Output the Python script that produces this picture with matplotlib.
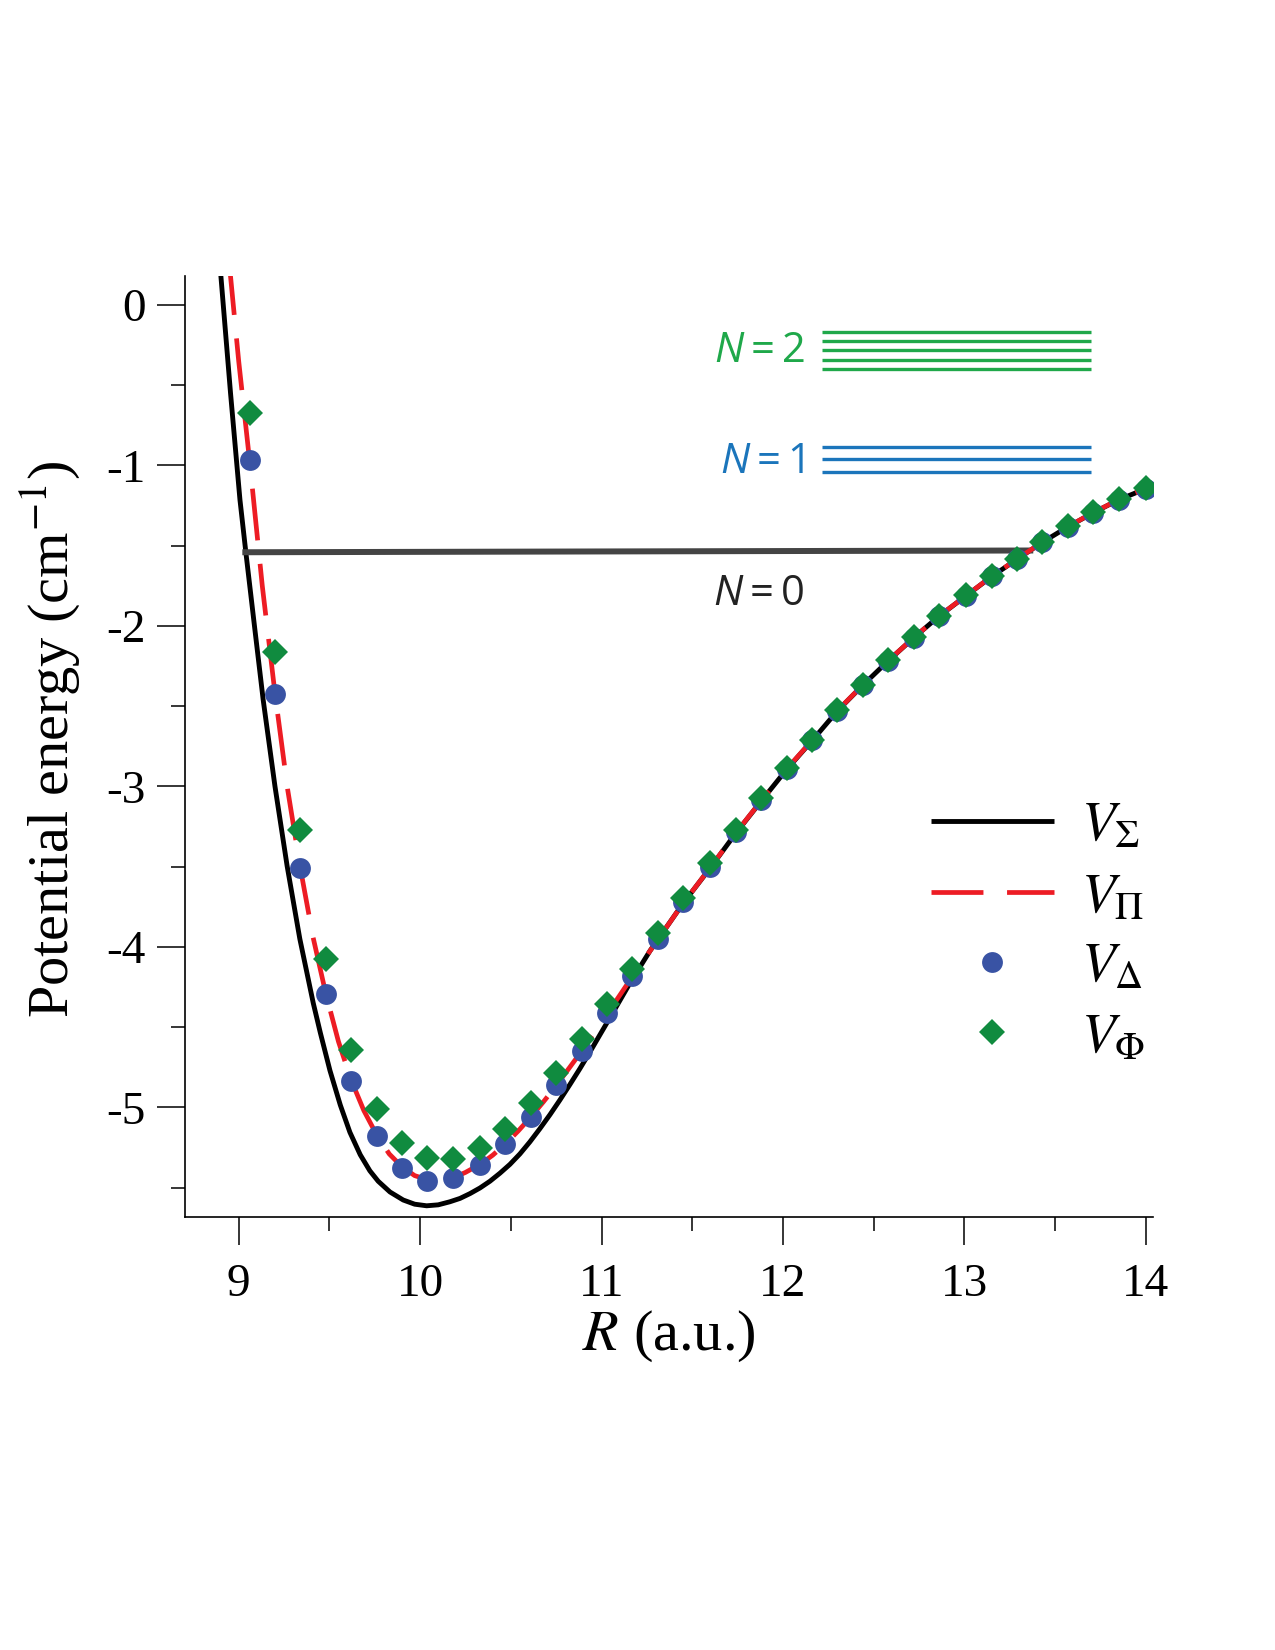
import numpy as np
import matplotlib
matplotlib.use("Agg")
import matplotlib.pyplot as plt

plt.rcParams['font.family'] = ['Liberation Serif', 'DejaVu Serif']
plt.rcParams['mathtext.fontset'] = 'stix'
plt.rcParams['mathtext.rm'] = 'Open Sans'
plt.rcParams['mathtext.it'] = 'Open Sans:italic'
plt.rcParams['axes.unicode_minus'] = False

# V_Sigma (black solid curve)
r_sigma = [8.896, 8.955, 9.007, 9.040, 9.09, 9.135, 9.20, 9.267, 9.337, 9.411,
           9.45, 9.503, 9.56, 9.613, 9.67, 9.723, 9.769, 9.834, 9.907, 9.97,
           10.036, 10.10, 10.164, 10.22, 10.275, 10.33, 10.385, 10.44, 10.495, 10.55,
           10.605, 10.66, 10.716, 10.77, 10.826, 10.88, 10.936, 10.99, 11.047, 11.157,
           11.267, 11.31, 11.45, 11.60, 11.74, 11.88, 12.02, 12.16, 12.30, 12.44,
           12.58, 12.72, 12.86, 13.01, 13.15, 13.29, 13.43, 13.57, 13.71, 13.85, 14.00]
v_sigma = [0.26, -0.55, -1.215, -1.547, -2.03, -2.461, -3.0, -3.496, -3.95, -4.35,
           -4.535, -4.77, -4.985, -5.155, -5.295, -5.395, -5.46, -5.527, -5.577, -5.603,
           -5.613, -5.607, -5.588, -5.567, -5.537, -5.502, -5.46, -5.41, -5.355, -5.29,
           -5.215, -5.133, -5.045, -4.955, -4.857, -4.76, -4.655, -4.55, -4.44, -4.225,
           -4.025, -3.955, -3.728, -3.507, -3.292, -3.092, -2.895, -2.716, -2.530, -2.370,
           -2.218, -2.075, -1.940, -1.812, -1.693, -1.585, -1.479, -1.383, -1.295, -1.215,
           -1.145]

# V_Pi (red dashed curve)
r_pi = [8.948, 9.00, 9.06, 9.13, 9.20, 9.27, 9.34, 9.41, 9.48, 9.55, 9.62, 9.69,
        9.76, 9.83, 9.90, 9.97, 10.04, 10.11, 10.18, 10.25, 10.33, 10.40, 10.47, 10.54,
        10.61, 10.68, 10.75, 10.89, 11.03, 11.17, 11.31, 11.45, 11.60, 11.74, 11.88,
        12.02, 12.16, 12.30, 12.44, 12.58, 12.72, 12.86, 13.01, 13.15, 13.29, 13.43,
        13.57, 13.71, 13.85, 14.00]
v_pi = [0.26, -0.35, -0.97, -1.75, -2.42, -3.02, -3.51, -3.94, -4.29, -4.59, -4.83, -5.02,
        -5.17, -5.29, -5.37, -5.425, -5.45, -5.455, -5.44, -5.405, -5.355, -5.298, -5.228,
        -5.148, -5.06, -4.965, -4.865, -4.65, -4.42, -4.185, -3.955, -3.728, -3.505, -3.29,
        -3.09, -2.892, -2.714, -2.528, -2.369, -2.217, -2.074, -1.939, -1.811, -1.692,
        -1.584, -1.478, -1.382, -1.294, -1.214, -1.144]

# V_Delta (blue circles) and V_Phi (green diamonds), same R grid
r_pts = [9.06, 9.20, 9.34, 9.48, 9.62, 9.76, 9.90, 10.04, 10.18, 10.33, 10.47, 10.61,
         10.75, 10.89, 11.03, 11.17, 11.31, 11.45, 11.60, 11.74, 11.88, 12.02, 12.16,
         12.30, 12.44, 12.58, 12.72, 12.86, 13.01, 13.15, 13.29, 13.43, 13.57, 13.71,
         13.85, 14.00]
v_delta = [-0.966, -2.424, -3.510, -4.293, -4.835, -5.180, -5.375, -5.458, -5.441, -5.358,
           -5.227, -5.057, -4.860, -4.646, -4.413, -4.180, -3.950, -3.720, -3.500, -3.285,
           -3.085, -2.890, -2.713, -2.527, -2.368, -2.216, -2.073, -1.938, -1.811, -1.692,
           -1.584, -1.478, -1.382, -1.294, -1.214, -1.144]
v_phi = [-0.675, -2.160, -3.271, -4.075, -4.642, -5.013, -5.223, -5.317, -5.323, -5.254,
         -5.134, -4.970, -4.783, -4.575, -4.353, -4.137, -3.915, -3.693, -3.479, -3.271,
         -3.074, -2.885, -2.710, -2.523, -2.365, -2.214, -2.071, -1.936, -1.809, -1.690,
         -1.585, -1.476, -1.380, -1.292, -1.212, -1.142]

# rotational levels
n0_r = [9.02, 13.38]
n0_v = [-1.541, -1.530]
n1_levels = [-0.883, -0.958, -1.040]
n2_levels = [-0.166, -0.224, -0.282, -0.343, -0.401]
levels_r = (12.215, 13.70)

black = '#000000'
red = '#ed1c24'
blue_pt = '#3953a4'
green_pt = '#108b3f'
green_n = '#1fa84a'
blue_n = '#1b75bb'

fig = plt.figure(figsize=(12.75, 16.5), dpi=100)
ax = fig.add_axes([0.1451, 0.2627, 0.7592, 0.570])

ax.plot(r_sigma, v_sigma, color=black, lw=3.5, solid_capstyle='butt', zorder=2,
        label=r'$V_\Sigma$')
ax.plot(n0_r, n0_v, color='#444444', lw=4.3, solid_capstyle='butt', zorder=2.5)
ax.plot(r_pi, v_pi, color=red, lw=3.4, linestyle=(0, (11, 5)), dash_capstyle='butt',
        zorder=3, label=r'$V_\Pi$')
ax.plot(r_pts, v_delta, 'o', color=blue_pt, ms=15, mew=0, zorder=4, label=r'$V_\Delta$')
ax.plot(r_pts, v_phi, 'D', color=green_pt, ms=13.5, mew=0, zorder=5, label=r'$V_\Phi$')

ax.hlines(n2_levels, levels_r[0], levels_r[1], color=green_n, lw=2.4)
ax.hlines(n1_levels, levels_r[0], levels_r[1], color=blue_n, lw=2.4)

ax.text(12.12, -0.353, r'$N = 2$', color=green_n, fontsize=30, ha='right',
        va='baseline', math_fontfamily='custom')
ax.text(12.12, -1.045, r'$N = 1$', color=blue_n, fontsize=30, ha='right',
        va='baseline', math_fontfamily='custom')
ax.text(12.12, -1.869, r'$N = 0$', color='#222222', fontsize=30, ha='right',
        va='baseline', math_fontfamily='custom')

ax.set_xlim(8.704, 14.04)
ax.set_ylim(-5.68, 0.18)
ax.set_xticks([9, 10, 11, 12, 13, 14])
ax.set_xticks(np.arange(9.5, 14, 1.0), minor=True)
ax.set_yticks([0, -1, -2, -3, -4, -5])
ax.set_yticks(np.arange(-0.5, -5.6, -1.0), minor=True)

for s in ['top', 'right']:
    ax.spines[s].set_visible(False)
for s in ['left', 'bottom']:
    ax.spines[s].set_linewidth(1.2)
ax.tick_params(which='major', direction='out', length=20, width=1.1, labelsize=34, pad=8)
ax.tick_params(axis='x', which='major', pad=14)
ax.tick_params(which='minor', direction='out', length=10, width=1.1)

ax.set_xlabel(r'$R$ (a.u.)', fontsize=42, labelpad=2)
ax.set_ylabel(r'Potential energy (cm$^{-1}$)', fontsize=42)
ax.yaxis.set_label_coords(-0.105, 0.507)

ax.legend(loc='upper left', bbox_to_anchor=(0.771, 0.442), frameon=False,
          fontsize=40, handlelength=2.2, handletextpad=0.5, labelspacing=0.33,
          borderpad=0, borderaxespad=0, numpoints=1)

fig.savefig('out.png', dpi=100)
